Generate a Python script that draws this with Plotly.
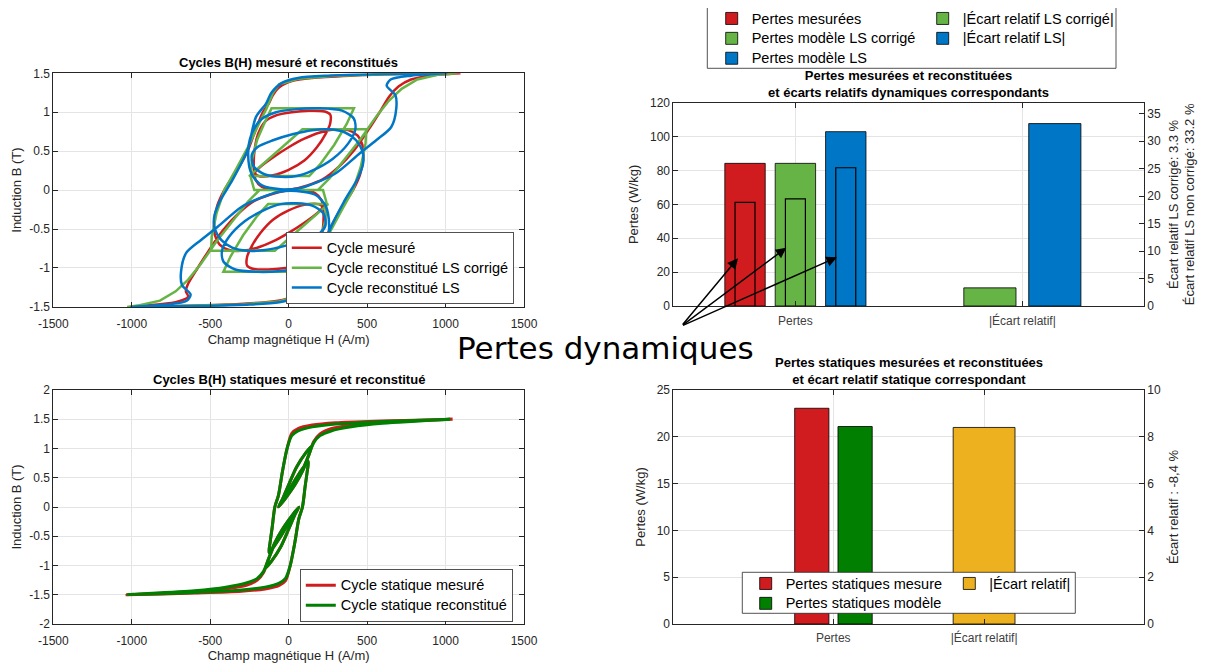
import plotly.graph_objects as go

# ---- valeurs ----
# cycles dynamiques B(H) : demi-cycle montant puis descendant, (H en A/m, B en T)
mes_up = [(-1010, -1.5), (-700, -1.49), (-400, -1.47), (-150, -1.44), (-20, -1.4), (60, -1.32), (100, -1.22),
          (130, -1.1), (165, -1.0), (215, -0.75), (262, -0.5), (330, -0.25), (410, 0.0), (455, 0.2), (475, 0.4),
          (470, 0.58), (440, 0.7), (380, 0.77), (300, 0.78), (200, 0.74), (100, 0.66), (0, 0.55), (-100, 0.42),
          (-180, 0.3), (-215, 0.22), (-190, 0.18), (-100, 0.19), (0, 0.26), (100, 0.38), (180, 0.55), (235, 0.72),
          (265, 0.86), (265, 0.97), (230, 1.01), (130, 1.02), (20, 1.0), (-80, 0.96), (-150, 0.88), (-195, 0.72),
          (-218, 0.5), (-222, 0.3), (-210, 0.13), (-170, 0.04), (-90, 0.0), (20, 0.01), (120, 0.06), (219, 0.14),
          (320, 0.3), (420, 0.52), (510, 0.78), (580, 1.0), (640, 1.2), (700, 1.33), (780, 1.42), (900, 1.47),
          (1095, 1.5)]
mes_down = [(1095, 1.5), (700, 1.49), (400, 1.47), (150, 1.44), (20, 1.4), (-60, 1.32), (-100, 1.22), (-130, 1.1),
            (-165, 1.0), (-215, 0.75), (-262, 0.5), (-330, 0.25), (-410, 0.0), (-455, -0.2), (-475, -0.4),
            (-470, -0.58), (-440, -0.7), (-380, -0.77), (-300, -0.78), (-200, -0.74), (-100, -0.66), (0, -0.55),
            (100, -0.42), (180, -0.3), (215, -0.22), (190, -0.18), (100, -0.19), (0, -0.26), (-100, -0.38),
            (-180, -0.55), (-235, -0.72), (-265, -0.86), (-265, -0.97), (-230, -1.01), (-130, -1.02), (-20, -1.0),
            (80, -0.96), (150, -0.88), (195, -0.72), (218, -0.5), (222, -0.3), (210, -0.13), (170, -0.04), (90, 0.0),
            (-20, -0.01), (-120, -0.06), (-219, -0.14), (-320, -0.3), (-420, -0.52), (-510, -0.78), (-580, -1.0),
            (-640, -1.2), (-655, -1.3), (-640, -1.37), (-720, -1.44), (-1010, -1.5)]

lsc_up = [(-1030, -1.5), (-700, -1.49), (-300, -1.47), (-60, -1.43), (60, -1.36), (100, -1.25), (140, -1.05),
          (190, -0.85), (260, -0.55), (340, -0.25), (410, 0.0), (460, 0.3), (490, 0.6), (495, 0.78),
          (88, 0.78), (20, 0.66), (-60, 0.52), (-150, 0.37), (-220, 0.24), (-252, 0.18),
          (131, 0.18), (200, 0.33), (290, 0.58), (370, 0.85), (416, 1.05),
          (-109, 1.05), (-150, 0.88), (-200, 0.65), (-235, 0.38), (-240, 0.15), (-219, 0.0),
          (186, 0.0), (260, 0.15), (360, 0.4), (460, 0.66), (560, 0.95), (640, 1.15), (720, 1.3), (820, 1.42),
          (950, 1.48), (1070, 1.5)]
lsc_down = [(1070, 1.5), (700, 1.49), (300, 1.47), (60, 1.43), (-60, 1.36), (-100, 1.25), (-140, 1.05),
            (-190, 0.85), (-260, 0.55), (-340, 0.25), (-410, 0.0), (-460, -0.3), (-490, -0.6), (-495, -0.78),
            (-88, -0.78), (-20, -0.66), (60, -0.52), (150, -0.37), (220, -0.24), (252, -0.18),
            (-131, -0.18), (-200, -0.33), (-290, -0.58), (-370, -0.85), (-416, -1.05),
            (109, -1.05), (150, -0.88), (200, -0.65), (235, -0.38), (240, -0.15), (219, 0.0),
            (-186, 0.0), (-260, -0.15), (-360, -0.4), (-460, -0.66), (-560, -0.95), (-640, -1.15), (-720, -1.3),
            (-820, -1.42), (-950, -1.48), (-1030, -1.5)]

ls_up = [(-1005, -1.5), (-600, -1.49), (-250, -1.47), (-60, -1.44), (40, -1.38), (110, -1.25), (144, -1.11),
         (208, -0.94), (263, -0.51), (358, -0.13), (440, 0.15), (475, 0.35), (470, 0.5), (430, 0.64), (360, 0.74),
         (260, 0.78), (150, 0.77), (30, 0.72), (-100, 0.64), (-200, 0.55), (-235, 0.45), (-222, 0.3), (-150, 0.2),
         (-50, 0.17), (50, 0.18), (150, 0.25), (280, 0.4), (380, 0.6), (425, 0.78), (415, 0.92), (340, 1.02),
         (200, 1.05), (50, 1.04), (-80, 1.0), (-180, 0.9), (-240, 0.7), (-258, 0.45), (-235, 0.2), (-170, 0.06),
         (-50, 0.01), (60, 0.02), (180, 0.1), (303, 0.22), (452, 0.47), (558, 0.64), (654, 0.81), (686, 1.05),
         (680, 1.22), (625, 1.34), (650, 1.42), (780, 1.47), (1005, 1.5)]
ls_down = [(1005, 1.5), (600, 1.49), (250, 1.47), (60, 1.44), (-40, 1.38), (-110, 1.25), (-144, 1.11),
           (-208, 0.94), (-263, 0.51), (-358, 0.13), (-440, -0.15), (-475, -0.35), (-470, -0.5), (-430, -0.64),
           (-360, -0.74), (-260, -0.78), (-150, -0.77), (-30, -0.72), (100, -0.64), (200, -0.55), (235, -0.45),
           (222, -0.3), (150, -0.2), (50, -0.17), (-50, -0.18), (-150, -0.25), (-280, -0.4), (-380, -0.6),
           (-425, -0.78), (-415, -0.92), (-340, -1.02), (-200, -1.05), (-50, -1.04), (80, -1.0), (180, -0.9),
           (240, -0.7), (258, -0.45), (235, -0.2), (170, -0.06), (50, -0.01), (-60, -0.02), (-180, -0.1),
           (-303, -0.22), (-452, -0.47), (-558, -0.64), (-654, -0.81), (-686, -1.05), (-680, -1.22), (-625, -1.34),
           (-650, -1.42), (-780, -1.47), (-1005, -1.5)]

# cycles statiques
stat_mes_up = [(-1030, -1.5), (-600, -1.47), (-300, -1.44), (-150, -1.4), (-60, -1.34), (-20, -1.26), (10, -1.0),
               (40, -0.6), (65, -0.2), (88, 0.0), (105, 0.35), (118, 0.6), (125, 0.78),
               (95, 0.68), (50, 0.5), (10, 0.32), (-20, 0.18),
               (25, 0.33), (75, 0.55), (115, 0.8), (140, 0.98), (150, 1.05),
               (110, 0.93), (50, 0.68), (0, 0.38), (-40, 0.13), (-65, 0.0),
               (-20, 0.15), (40, 0.38), (90, 0.62), (130, 0.9), (160, 1.12), (200, 1.25), (270, 1.34), (400, 1.4),
               (600, 1.45), (1045, 1.5)]
stat_mes_down = [(1045, 1.5), (600, 1.47), (300, 1.44), (150, 1.4), (60, 1.34), (20, 1.26), (-10, 1.0), (-40, 0.6),
                 (-65, 0.2), (-88, 0.0), (-105, -0.35), (-118, -0.6), (-125, -0.78),
                 (-95, -0.68), (-50, -0.5), (-10, -0.32), (20, -0.18),
                 (-25, -0.33), (-75, -0.55), (-115, -0.8), (-140, -0.98), (-150, -1.05),
                 (-110, -0.93), (-50, -0.68), (0, -0.38), (40, -0.13), (65, 0.0),
                 (20, -0.15), (-40, -0.38), (-90, -0.62), (-130, -0.9), (-160, -1.12), (-200, -1.25), (-270, -1.34),
                 (-400, -1.4), (-600, -1.45), (-1030, -1.5)]
stat_mod_up = [(-1030, -1.5), (-600, -1.46), (-300, -1.42), (-150, -1.37), (-60, -1.3), (-20, -1.22), (10, -1.0),
               (40, -0.6), (65, -0.2), (88, 0.0), (105, 0.35), (118, 0.6), (125, 0.78),
               (95, 0.68), (50, 0.5), (10, 0.32), (-20, 0.18),
               (25, 0.33), (75, 0.55), (115, 0.8), (140, 0.98), (150, 1.05),
               (110, 0.93), (50, 0.68), (0, 0.38), (-40, 0.13), (-65, 0.0),
               (-20, 0.15), (40, 0.38), (90, 0.62), (130, 0.9), (160, 1.1), (200, 1.22), (270, 1.3), (400, 1.37),
               (600, 1.43), (1030, 1.5)]
stat_mod_down = [(1030, 1.5), (600, 1.46), (300, 1.42), (150, 1.37), (60, 1.3), (20, 1.22), (-10, 1.0), (-40, 0.6),
                 (-65, 0.2), (-88, 0.0), (-105, -0.35), (-118, -0.6), (-125, -0.78),
                 (-95, -0.68), (-50, -0.5), (-10, -0.32), (20, -0.18),
                 (-25, -0.33), (-75, -0.55), (-115, -0.8), (-140, -0.98), (-150, -1.05),
                 (-110, -0.93), (-50, -0.68), (0, -0.38), (40, -0.13), (65, 0.0),
                 (20, -0.15), (-40, -0.38), (-90, -0.62), (-130, -0.9), (-160, -1.1), (-200, -1.22), (-270, -1.3),
                 (-400, -1.37), (-600, -1.43), (-1030, -1.5)]

# pertes (W/kg) et écarts (%)
cats = ["Pertes", "|Écart relatif|"]
noms_dyn = ["Pertes mesurées", "Pertes modèle LS corrigé", "Pertes modèle LS"]
pertes_tot = [84.2, 84.2, 102.9]
pertes_dyn = [61.2, 63.2, 81.6]
noms_ecart = ["|Écart relatif LS corrigé|", "|Écart relatif LS|"]
ecarts_dyn = [3.3, 33.2]
noms_stat = ["Pertes statiques mesure", "Pertes statiques modèle"]
pertes_stat = [23.05, 21.1]
ecart_stat = [8.4]

h_ticks = [-1500, -1000, -500, 0, 500, 1000, 1500]
b_ticks_dyn = [-1.5, -1, -0.5, 0, 0.5, 1, 1.5]
b_ticks_stat = [-2, -1.5, -1, -0.5, 0, 0.5, 1, 1.5, 2]

# ---- style ----
# la page ajoute une marge de 8 px : la figure fait donc 1200 x 658
OFF = 8
W, H = 1200, 658
FONT = "Liberation Sans, Arial, sans-serif"
RED = "#D01C1F"
GREEN = "#66B446"
BLUE = "#0076C6"
DKGREEN = "#007F00"
YELLOW = "#EDB120"
AX = "#262626"


def px(x):
    return (x - OFF) / W


def py(y):
    return 1 - (y - OFF) / H


def xs(pts):
    return [p[0] for p in pts]


def ys(pts):
    return [p[1] for p in pts]


def lab(v):
    return ("%g" % v)


def nom(txt):
    # texte de légende un peu plus grand que l'interligne de la légende
    return '<span style="font-size:14.5px">' + txt + '</span>'


axis_style = dict(showline=True, linecolor=AX, linewidth=0.8, ticks="inside", ticklen=5, tickcolor=AX,
                  tickwidth=0.8, showgrid=True, gridcolor="#E4E4E4", gridwidth=1, zeroline=False,
                  automargin=False,
                  tickfont=dict(family=FONT, size=12, color=AX),
                  title_font=dict(family=FONT, size=13, color=AX))

fig = go.Figure()

# cycles dynamiques
fig.add_trace(go.Scatter(x=xs(mes_up + mes_down), y=ys(mes_up + mes_down), mode="lines", name=nom("Cycle mesuré"),
                         line=dict(color=RED, width=2.5, shape="spline", smoothing=0.8),
                         xaxis="x", yaxis="y", legend="legend"))
fig.add_trace(go.Scatter(x=xs(lsc_up + lsc_down), y=ys(lsc_up + lsc_down), mode="lines",
                         name=nom("Cycle reconstitué LS corrigé"), line=dict(color=GREEN, width=2.5),
                         xaxis="x", yaxis="y", legend="legend"))
fig.add_trace(go.Scatter(x=xs(ls_up + ls_down), y=ys(ls_up + ls_down), mode="lines",
                         name=nom("Cycle reconstitué LS"),
                         line=dict(color=BLUE, width=2.5, shape="spline", smoothing=0.8),
                         xaxis="x", yaxis="y", legend="legend"))

# cycles statiques
fig.add_trace(go.Scatter(x=xs(stat_mes_up + stat_mes_down), y=ys(stat_mes_up + stat_mes_down), mode="lines",
                         name=nom("Cycle statique mesuré"),
                         line=dict(color=RED, width=3, shape="spline", smoothing=0.8),
                         xaxis="x2", yaxis="y2", legend="legend2"))
fig.add_trace(go.Scatter(x=xs(stat_mod_up + stat_mod_down), y=ys(stat_mod_up + stat_mod_down), mode="lines",
                         name=nom("Cycle statique reconstitué"),
                         line=dict(color=DKGREEN, width=3, shape="spline", smoothing=0.8),
                         xaxis="x2", yaxis="y2", legend="legend2"))

# pertes dynamiques
couleurs = [RED, GREEN, BLUE]
decal = [-0.222, 0.0, 0.222]
for i in range(3):
    fig.add_trace(go.Bar(x=[1 + decal[i]], y=[pertes_tot[i]], width=[0.178], name=nom(noms_dyn[i]),
                         marker=dict(color=couleurs[i], line=dict(color="black", width=0.8)),
                         xaxis="x3", yaxis="y3", legend="legend3"))
for i in range(3):
    fig.add_trace(go.Bar(x=[1 + decal[i]], y=[pertes_dyn[i]], width=[0.088], showlegend=False,
                         marker=dict(color=couleurs[i], line=dict(color="black", width=1.2)),
                         xaxis="x3", yaxis="y3"))
decal_e = [-0.143, 0.143]
for i in range(2):
    fig.add_trace(go.Bar(x=[2 + decal_e[i]], y=[ecarts_dyn[i]], width=[0.23], name=nom(noms_ecart[i]),
                         marker=dict(color=[GREEN, BLUE][i], line=dict(color="black", width=0.8)),
                         xaxis="x3", yaxis="y4", legend="legend4"))

# pertes statiques
decal_s = [-0.142, 0.145]
for i in range(2):
    fig.add_trace(go.Bar(x=[1 + decal_s[i]], y=[pertes_stat[i]], width=[0.227], name=nom(noms_stat[i]),
                         marker=dict(color=[RED, DKGREEN][i], line=dict(color="black", width=0.8)),
                         xaxis="x4", yaxis="y5", legend="legend5"))
fig.add_trace(go.Bar(x=[2], y=ecart_stat, width=[0.41], name=nom("|Écart relatif|"),
                     marker=dict(color=YELLOW, line=dict(color="black", width=0.8)),
                     xaxis="x4", yaxis="y6", legend="legend6"))

dom_left = [px(53.3), px(524)]
dom_right = [px(673.3), px(1144)]
dom_top_l = [py(306.9), py(73.3)]
dom_top_r = [py(306), py(102.7)]
dom_bot = [py(624), py(390)]

fig.update_layout(
    template="none",
    xaxis=dict(axis_style, domain=dom_left, anchor="y", range=[-1500, 1500], mirror="ticks",
               tickvals=h_ticks, ticktext=[lab(v) for v in h_ticks], ticklabelstandoff=6,
               title=dict(text="Champ magnétique H (A/m)", standoff=4)),
    yaxis=dict(axis_style, domain=dom_top_l, anchor="x", range=[-1.5, 1.5], mirror="ticks",
               tickvals=b_ticks_dyn, ticktext=[lab(v) for v in b_ticks_dyn],
               title=dict(text="Induction B (T)", standoff=4)),
    xaxis2=dict(axis_style, domain=dom_left, anchor="y2", range=[-1500, 1500], mirror="ticks",
                tickvals=h_ticks, ticktext=[lab(v) for v in h_ticks], ticklabelstandoff=6,
                title=dict(text="Champ magnétique H (A/m)", standoff=3)),
    yaxis2=dict(axis_style, domain=dom_bot, anchor="x2", range=[-2, 2], mirror="ticks",
                tickvals=b_ticks_stat, ticktext=[lab(v) for v in b_ticks_stat],
                title=dict(text="Induction B (T)", standoff=4)),
    xaxis3=dict(axis_style, domain=dom_right, anchor="y3", range=[0.462, 2.536], mirror="ticks",
                tickvals=[1, 2], ticktext=cats, ticklabelstandoff=4,
                tickfont=dict(family=FONT, size=12, color="#404040")),
    yaxis3=dict(axis_style, domain=dom_top_r, anchor="x3", range=[0, 120], dtick=20,
                title=dict(text="Pertes (W/kg)", standoff=8)),
    yaxis4=dict(axis_style, overlaying="y3", side="right", anchor="x3", range=[0, 37], dtick=5, showgrid=False,
                title=dict(text="Écart relatif LS corrigé: 3.3 %<br>Écart relatif LS non corrigé: 33.2 %",
                           standoff=8)),
    xaxis4=dict(axis_style, domain=dom_right, anchor="y5", range=[-0.06, 3.06], mirror="ticks",
                tickvals=[1, 2], ticktext=cats, ticklabelstandoff=3,
                tickfont=dict(family=FONT, size=12, color="#404040")),
    yaxis5=dict(axis_style, domain=dom_bot, anchor="x4", range=[0, 25], dtick=5,
                title=dict(text="Pertes (W/kg)", standoff=8)),
    yaxis6=dict(axis_style, overlaying="y5", side="right", anchor="x4", range=[0, 10], dtick=2, showgrid=False,
                title=dict(text="Écart relatif : -8,4 %", standoff=8)),
    barmode="overlay",
    width=W, height=H, autosize=False,
    margin=dict(l=0, r=0, t=0, b=0, autoexpand=False),
    paper_bgcolor="white", plot_bgcolor="white",
    font=dict(family=FONT, size=12, color=AX),
)

leg = dict(xanchor="left", yanchor="top", bgcolor="white", bordercolor=AX, borderwidth=0.8,
           font=dict(family=FONT, size=13, color="black"), tracegroupgap=0, itemwidth=30)
leg_nobox = dict(leg, bgcolor="rgba(0,0,0,0)", borderwidth=0)
fig.update_layout(
    legend=dict(leg, x=px(286), y=py(232)),
    legend2=dict(leg, x=px(300), y=py(569.5)),
    legend3=dict(leg_nobox, x=px(711.7), y=py(3.5)),
    legend4=dict(leg_nobox, x=px(922.7), y=py(3.5)),
    legend5=dict(leg_nobox, x=px(745.7), y=py(568.5)),
    legend6=dict(leg_nobox, x=px(949.3), y=py(568.5)),
)

# cadres des légendes à deux colonnes
fig.add_shape(type="rect", xref="paper", yref="paper", x0=px(707.3), x1=px(1116), y0=py(68.3), y1=py(6.7),
              line=dict(color=AX, width=0.8), fillcolor="white", layer="above")
fig.add_shape(type="rect", xref="paper", yref="paper", x0=px(742.3), x1=px(1075.3), y0=py(613.3), y1=py(572.3),
              line=dict(color=AX, width=0.8), fillcolor="white", layer="above")

# titres
titres = [
    ("Cycles B(H) mesuré et reconstitués", 288.7, 62.7),
    ("Cycles B(H) statiques mesuré et reconstitué", 288.7, 379),
    ("Pertes mesurées et reconstituées<br>et écarts relatifs dynamiques correspondants", 908.6, 83.5),
    ("Pertes statiques mesurées et reconstituées<br>et écart relatif statique correspondant", 908.6, 370.5),
]
for txt, x0, y0 in titres:
    fig.add_annotation(text="<b>" + txt + "</b>", x=px(x0), y=py(y0), xref="paper", yref="paper",
                       xanchor="center", yanchor="middle", showarrow=False,
                       font=dict(family=FONT, size=13, color="black"))

# flèches "Pertes dynamiques"
tetes = [(0.747, 28.2), (0.96, 34.4), (1.183, 28.8)]
for hx, hy in tetes:
    fig.add_annotation(x=hx, y=hy, xref="x3", yref="y3", ax=0.498, ay=-11.8, axref="x3", ayref="y3",
                       text="", showarrow=True, arrowhead=2, arrowsize=1.4, arrowwidth=1.5, arrowcolor="black")
fig.add_annotation(text="Pertes dynamiques", x=px(605.8), y=py(348), xref="paper", yref="paper",
                   xanchor="center", yanchor="middle", showarrow=False,
                   font=dict(family="DejaVu Sans", size=31, color="black"))

fig.write_html("out.html")
